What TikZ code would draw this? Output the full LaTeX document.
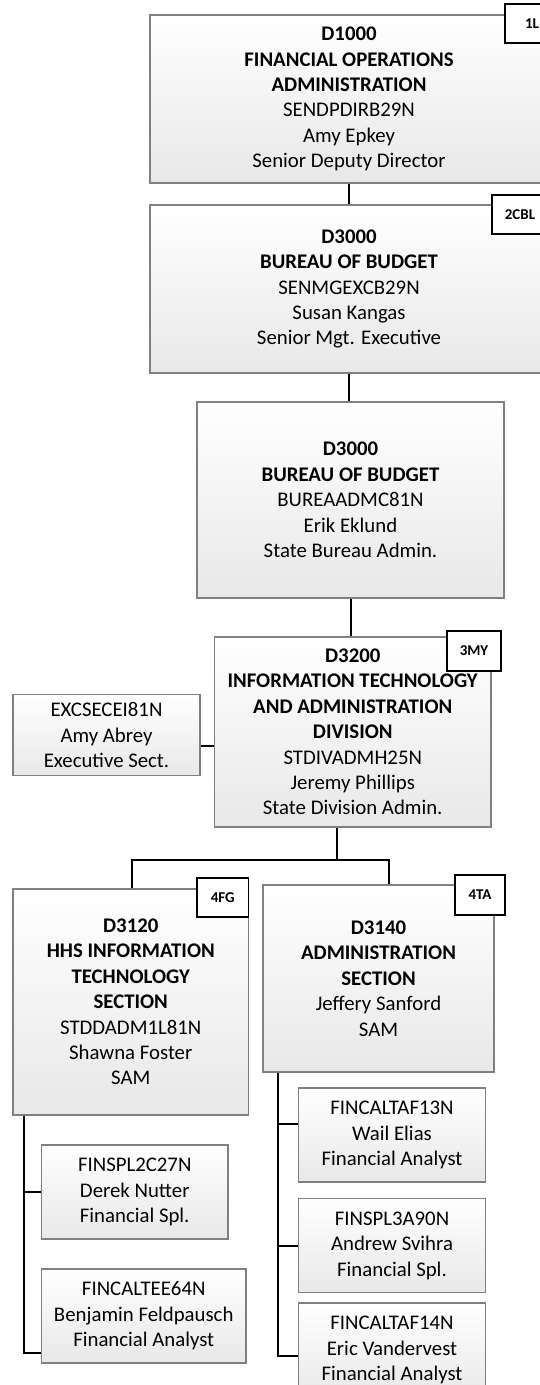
\documentclass[tikz,border=0pt]{standalone}
\usepackage{fontspec}
\setmainfont{Carlito}
\begin{document}
\begin{tikzpicture}[x=1pt,y=-1pt,
	unit/.style={draw=black!50,line width=1.2pt,top color=white,bottom color=black!9,align=center,inner sep=0pt,font=\fontsize{20.8}{25.4}\selectfont},
	tag/.style={draw=black,line width=1.5pt,fill=white,inner sep=0pt,minimum width=54pt,minimum height=39pt,font=\fontsize{15}{18}\selectfont\bfseries},
	link/.style={line width=2pt}]
	\useasboundingbox (0,0) rectangle (540,1385);
	\clip (0,0) rectangle (540,1385);
	\node[unit,minimum width=398pt,minimum height=168pt] (fin) at (349,99) {\textbf{D1000}\\\textbf{FINANCIAL OPERATIONS}\\\textbf{ADMINISTRATION}\\SENDPDIRB29N\\Amy Epkey\\Senior Deputy Director};
	\node[unit,minimum width=398pt,minimum height=168pt] (bob) at (349,289) {\textbf{D3000}\\\textbf{BUREAU OF BUDGET}\\SENMGEXCB29N\\Susan Kangas\\Senior Mgt. Executive};
	\node[unit,minimum width=307pt,minimum height=196pt] (bur) at (350.5,500) {\textbf{D3000}\\\textbf{BUREAU OF BUDGET}\\BUREAADMC81N\\Erik Eklund\\State Bureau Admin.};
	\node[unit,minimum width=276.5pt,minimum height=190pt] (itad) at (352.75,732) {\textbf{D3200}\\\textbf{INFORMATION TECHNOLOGY}\\\textbf{AND ADMINISTRATION}\\\textbf{DIVISION}\\STDIVADMH25N\\Jeremy Phillips\\State Division Admin.};
	\node[unit,minimum width=187pt,minimum height=81pt] (sect) at (106.5,735) {EXCSECEI81N\\Amy Abrey\\Executive Sect.};
	\node[unit,minimum width=235.5pt,minimum height=226pt] (hhs) at (130.75,1002) {\textbf{D3120}\\\textbf{HHS INFORMATION}\\\textbf{TECHNOLOGY}\\\textbf{SECTION}\\STDDADM1L81N\\Shawna Foster\\SAM};
	\node[unit,minimum width=231pt,minimum height=187pt] (adm) at (378.5,978.5) {\textbf{D3140}\\\textbf{ADMINISTRATION}\\\textbf{SECTION}\\Jeffery Sanford\\SAM};
	\node[unit,minimum width=186.5pt,minimum height=94pt] (nutter) at (134.75,1192) {FINSPL2C27N\\Derek Nutter\\Financial Spl.};
	\node[unit,minimum width=204.5pt,minimum height=94pt] (feld) at (143.75,1316) {FINCALTEE64N\\Benjamin Feldpausch\\Financial Analyst};
	\node[unit,minimum width=187pt,minimum height=94pt] (elias) at (392,1135) {FINCALTAF13N\\Wail Elias\\Financial Analyst};
	\node[unit,minimum width=187pt,minimum height=94pt] (svihra) at (392,1245.6) {FINSPL3A90N\\Andrew Svihra\\Financial Spl.};
	\node[unit,minimum width=187pt,minimum height=94pt] (vander) at (392,1350) {FINCALTAF14N\\Eric Vandervest\\Financial Analyst};
	\node[tag] (t1) at (532,23.5) {1L};
	\node[tag,minimum width=56pt] (t2) at (520,214.5) {2CBL};
	\node[tag,minimum height=40pt] (t3) at (474,651) {3MY};
	\node[tag,minimum width=51.5pt] (t4) at (222.75,897.5) {4FG};
	\node[tag,minimum width=50pt,minimum height=40pt] (t5) at (480,895) {4TA};
	\draw[link] (fin.south) -- (bob.north);
	\draw[link] (bob.south) -- (bob.south |- bur.north);
	\draw[link] (bur.south) -- (bur.south |- itad.north);
	\draw[link] ([yshift=-11pt]sect.east) -- ([yshift=-11pt]sect.east -| itad.west);
	\coordinate (j4) at (337,860);
	\coordinate (s5) at (131.5,860);
	\coordinate (s6) at (389,860);
	\draw[link] (j4 |- itad.south) -- (j4);
	\draw[link] (s5 |- hhs.north) -- (s5) -- (s6) -- (s6 |- adm.north);
	\coordinate (ls) at (23.5,1352.5);
	\draw[link] (ls |- hhs.south) -- (ls) -- (ls -| feld.west);
	\draw[link] (ls |- nutter.west) -- (nutter.west);
	\coordinate (rs) at (277.5,1356);
	\draw[link] (rs |- adm.south) -- (rs) -- (rs -| vander.west);
	\draw[link] (277.5,1124) -- (277.5,1124 -| elias.west);
	\draw[link] (rs |- svihra.west) -- (svihra.west);
\end{tikzpicture}
\end{document}
